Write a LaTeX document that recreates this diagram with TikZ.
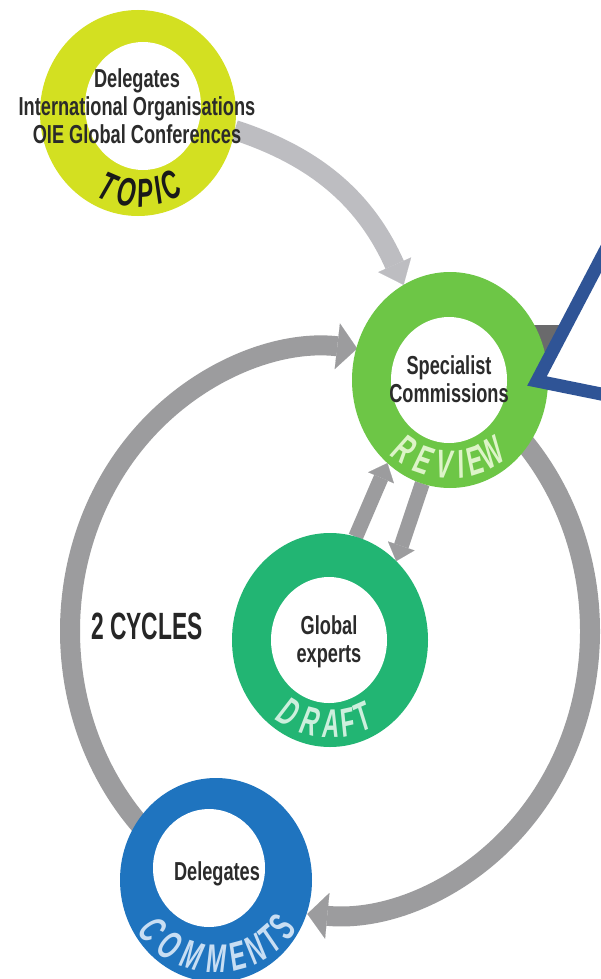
\documentclass[tikz,border=0pt]{standalone}
\usepackage{fontspec}
\newfontfamily\cond[FakeStretch=0.7]{Liberation Sans}
\newfontfamily\lblf[FakeStretch=0.6]{Liberation Sans}
\usetikzlibrary{arrows.meta,shapes.geometric}
\definecolor{topicc}{HTML}{D3E021}
\definecolor{reviewc}{HTML}{6DC646}
\definecolor{draftc}{HTML}{22B573}
\definecolor{commc}{HTML}{1F74BF}
\definecolor{cycg}{HTML}{9C9C9E}
\definecolor{topg}{HTML}{BDBDC1}
\definecolor{darkbar}{HTML}{6A6A6C}
\definecolor{calloutc}{HTML}{2F5496}
\definecolor{txtc}{HTML}{2B2B2B}
\definecolor{revtxt}{HTML}{DDF4C8}
\definecolor{drtxt}{HTML}{CDEFDD}
\definecolor{comtxt}{HTML}{C8DEF3}
\pgfdeclarelayer{bg}
\pgfsetlayers{bg,main}
\begin{document}
\begin{tikzpicture}[x=1pt,y=1pt,
  ring/.style={ellipse, inner sep=0pt, outer sep=0pt, draw=none, fill=#1},
  hole/.style={ellipse, inner sep=0pt, outer sep=0pt, draw=none, fill=white},
  body/.style={font=\cond\bfseries\fontsize{26}{28}\selectfont, text=txtc, align=center, inner sep=0pt},
  lbl/.style={font=\lblf\bfseries\itshape\fontsize{40}{40}\selectfont, inner sep=0pt},
  cycarrow/.style={draw=cycg, line width=20pt, -{Triangle[width=46pt,length=20pt,line width=0.1pt]}},
  toparrow/.style={draw=topg, line width=20pt, -{Triangle[width=36pt,length=22pt,line width=0.1pt]}},
  rdarrow/.style={draw=cycg, line width=15pt, -{Triangle[width=28pt,length=16pt,line width=0.1pt]}}
]
\useasboundingbox (0,0) rectangle (601,-979);
\clip (0,0) rectangle (601,-979);

% rings
\node[ring=topicc, minimum width=196pt, minimum height=206pt] (topic) at (138,-113) {};
\node[hole, minimum width=116pt, minimum height=128pt] (topichole) at (143,-106) {};
\node[ring=reviewc, minimum width=196pt, minimum height=216pt] (rev) at (450,-380) {};
\node[hole, minimum width=116pt, minimum height=126pt] (revhole) at (449,-380) {};
\node[ring=draftc, minimum width=196pt, minimum height=214pt] (draft) at (330,-640) {};
\node[hole, minimum width=116pt, minimum height=126pt] (drafthole) at (329,-640) {};
\node[ring=commc, minimum width=192pt, minimum height=204pt] (com) at (216,-880) {};
\node[hole, minimum width=112pt, minimum height=118pt] (comhole) at (209,-868) {};

% connectors on background
\begin{pgfonlayer}{bg}
\fill[white] (0,0) rectangle (601,-979);
\coordinate (cyc) at (330,-631);
\draw[cycarrow] (cyc) ++(225:260 and 284) arc[start angle=225, end angle=84, x radius=260, y radius=284];
\draw[cycarrow] (cyc) ++(50:260 and 284) arc[start angle=50, end angle=-95, x radius=260, y radius=284];
\draw[toparrow] (topic.-10) to[out=-18, in=114] (rev.116);
\draw[rdarrow] (draft.76) -- (rev.233);
\draw[rdarrow] (rev.255) -- (draft.50);
\fill[darkbar] (500,-325) rectangle (590,-352);
\end{pgfonlayer}

% texts
\node[body] (topictext) at (137,-106) {Delegates\\International Organisations\\OIE Global Conferences};
\node[body] (revtext) at (449,-379) {Specialist\\Commissions};
\node[body] (drafttext) at (329,-642) {Global\\experts};
\node[body] (comtext) at (217,-874) {Delegates};
\node[body, font=\lblf\bfseries\fontsize{38}{38}\selectfont, text=black!85] (cycles) at (147,-626) {2 CYCLES};

% ring labels
\foreach \ch/\ang [count=\i] in {T/246.8, O/261.7, P/275.3, I/285, C/295} {
  \path (topic.center) ++(\ang:76 and 80) node[lbl, text=black!90, rotate=\ang+90] (topicl\i) {\ch};
}
\foreach \ch/\ang [count=\i] in {R/235, E/251, V/266, I/278, E/288, W/301} {
  \path (rev.center) ++(\ang:80 and 85) node[lbl, text=revtxt, rotate=\ang+90] (revl\i) {\ch};
}
\foreach \ch/\ang [count=\i] in {D/239, R/255.5, A/270.5, F/282.5, T/294} {
  \path (draft.center) ++(\ang:80 and 84) node[lbl, text=drtxt, rotate=\ang+90] (draftl\i) {\ch};
}
\foreach \ch/\ang [count=\i] in {C/219, O/236, M/253, M/270, E/285, N/299, T/311, S/324} {
  \path (com.center) ++(\ang:82 and 79) node[lbl, text=comtxt, rotate=\ang+90] (coml\i) {\ch};
}

% callout pointer
\draw[draw=calloutc, line width=13pt, fill=white, line join=miter] (537,-381) -- (650,-165) -- (680,-410) -- cycle;
\end{tikzpicture}
\end{document}
